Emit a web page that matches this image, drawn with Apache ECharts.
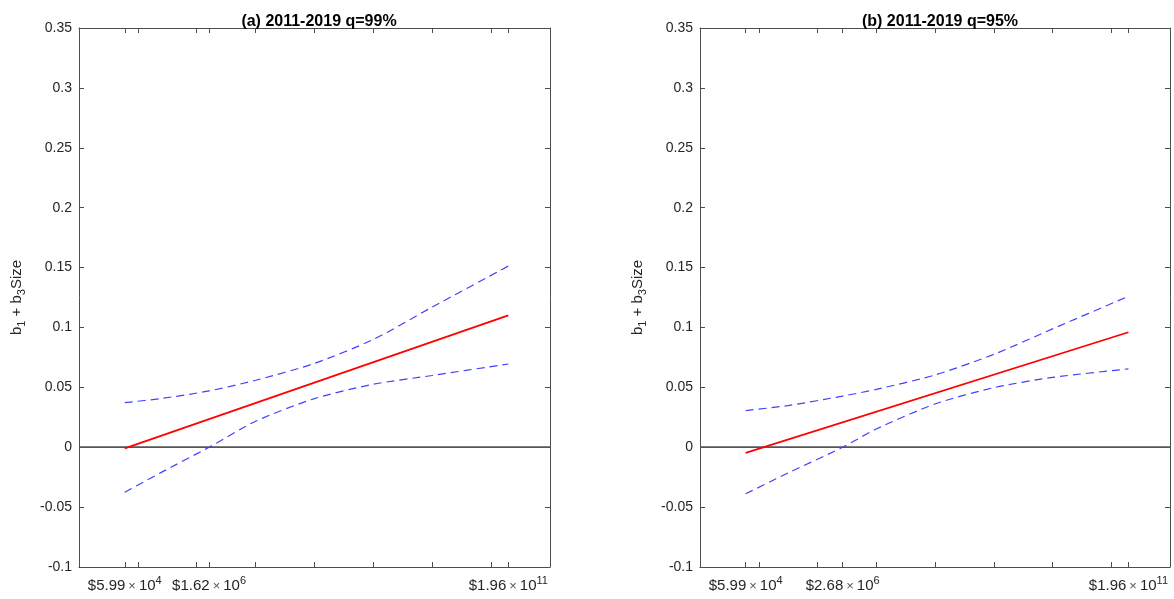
<!DOCTYPE html>
<html>
<head>
<meta charset="utf-8">
<script src="https://cdn.jsdelivr.net/npm/echarts@6/dist/echarts.min.js"></script>
<style>
html, body { margin: 0; background: #fff; }
#main { width: 1174px; height: 599px; }
</style>
</head>
<body>
<div id="main"></div>
<script>
var titles = ['(a) 2011-2019 q=99%', '(b) 2011-2019 q=95%'];

// panel (a): firm size ($) vs b1 + b3*Size
var sizeA = [5.99e4, 2.5e5, 1.62e6, 1e7, 1e8, 1e9, 1e10, 1.96e11];
var upperA = [0.0372, 0.0407, 0.047, 0.0559, 0.070, 0.090, 0.117, 0.1513];
var lowerA = [-0.0376, -0.021, 0, 0.0217, 0.0406, 0.0526, 0.0599, 0.0695];
var fitSizeA = [5.99e4, 1.96e11];
var fitA = [-0.001, 0.110];

// panel (b)
var sizeB = [5.99e4, 3.16e5, 2.68e6, 1e7, 1e8, 1e9, 1e10, 1.96e11];
var upperB = [0.0306, 0.0348, 0.0427, 0.0483, 0.0603, 0.0775, 0.0988, 0.126];
var lowerB = [-0.0389, -0.0215, 0, 0.0152, 0.0361, 0.0497, 0.0583, 0.0654];
var fitSizeB = [5.99e4, 1.96e11];
var fitB = [-0.0047, 0.096];

// labelled x ticks: mantissa and power of ten
var tickValsA = [5.99e4, 1.62e6, 1.96e11];
var tickValsB = [5.99e4, 2.68e6, 1.96e11];
var tickManA = ['$5.99', '$1.62', '$1.96'];
var tickManB = ['$5.99', '$2.68', '$1.96'];
var tickExp = ['4', '6', '11'];
var decades = [1e4, 1e5, 1e6, 1e7, 1e8, 1e9, 1e10, 1e11, 1e12];

var font = 'Liberation Sans, Arial, Helvetica, sans-serif';
var ink = '#262626';
var frame = '#4d4d4d';

function zip(xs, ys) {
    return xs.map(function (x, i) { return [x, ys[i]]; });
}

function xAxisFor(grid, vals, mans, exps, bottom) {
    return {
        type: 'log',
        logBase: 10,
        gridIndex: grid,
        position: bottom ? 'bottom' : 'top',
        min: 1e4,
        max: 1e12,
        axisLine: { show: true, onZero: false, lineStyle: { color: frame, width: 1 } },
        axisTick: {
            show: true, inside: true, length: 5,
            customValues: decades.concat(vals),
            lineStyle: { color: frame }
        },
        splitLine: { show: false },
        axisLabel: {
            show: bottom,
            customValues: vals,
            margin: 8,
            fontFamily: font,
            color: ink,
            formatter: function (v) {
                for (var i = 0; i < vals.length; i++) {
                    if (Math.abs(v / vals[i] - 1) < 1e-3) {
                        return '{a|' + mans[i] + '\u2009}{x|×}{a|\u200910}{s|' + exps[i] + '}';
                    }
                }
                return '';
            },
            rich: {
                a: { fontSize: 15, fontFamily: font, color: ink, lineHeight: 22 },
                x: { fontSize: 13, fontFamily: font, color: '#555', lineHeight: 22 },
                s: { fontSize: 11, fontFamily: font, color: ink, lineHeight: 12, verticalAlign: 'top' }
            }
        }
    };
}

function yAxisFor(grid, left) {
    return {
        type: 'value',
        gridIndex: grid,
        position: left ? 'left' : 'right',
        min: -0.1,
        max: 0.35,
        interval: 0.05,
        name: left ? '{b|b}{u|1}{b| + b}{u|3}{b|Size}' : '',
        nameLocation: 'middle',
        nameRotate: 90,
        nameGap: 52,
        nameTextStyle: {
            rich: {
                b: { fontSize: 15, fontFamily: font, color: ink, lineHeight: 20 },
                u: { fontSize: 11, fontFamily: font, color: ink, lineHeight: 10, verticalAlign: 'bottom' }
            }
        },
        axisLine: { show: true, onZero: false, lineStyle: { color: frame, width: 1 } },
        axisTick: { show: true, inside: true, length: 5, lineStyle: { color: frame } },
        splitLine: { show: false },
        axisLabel: { show: left, margin: 7, fontSize: 14, fontFamily: font, color: ink }
    };
}

function seriesFor(k, sizes, upper, lower, fitX, fitY) {
    var dash = { color: '#4040ff', width: 1.2, type: [8, 5] };
    return [
        {
            type: 'line', xAxisIndex: 2 * k, yAxisIndex: 2 * k,
            data: [[1e4, 0], [1e12, 0]],
            symbol: 'none', silent: true,
            lineStyle: { color: '#555', width: 1.8 }
        },
        {
            type: 'line', xAxisIndex: 2 * k, yAxisIndex: 2 * k,
            data: zip(sizes, upper), smooth: 0.25,
            symbol: 'none',
            lineStyle: dash
        },
        {
            type: 'line', xAxisIndex: 2 * k, yAxisIndex: 2 * k,
            data: zip(sizes, lower), smooth: 0.25,
            symbol: 'none',
            lineStyle: dash
        },
        {
            type: 'line', xAxisIndex: 2 * k, yAxisIndex: 2 * k,
            data: zip(fitX, fitY),
            symbol: 'none',
            lineStyle: { color: '#ff0000', width: 1.8 }
        }
    ];
}

var chart = echarts.init(document.getElementById('main'));
chart.setOption({
    animation: false,
    backgroundColor: '#fff',
    title: [
        { text: titles[0], left: 314, top: 9, textAlign: 'center',
          textStyle: { fontSize: 16, fontWeight: 'bold', fontFamily: font, color: '#000' } },
        { text: titles[1], left: 935, top: 9, textAlign: 'center',
          textStyle: { fontSize: 16, fontWeight: 'bold', fontFamily: font, color: '#000' } }
    ],
    grid: [
        { left: 79, right: 624, top: 28, bottom: 32 },
        { left: 700, right: 4, top: 28, bottom: 32 }
    ],
    xAxis: [
        xAxisFor(0, tickValsA, tickManA, tickExp, true),
        xAxisFor(0, tickValsA, tickManA, tickExp, false),
        xAxisFor(1, tickValsB, tickManB, tickExp, true),
        xAxisFor(1, tickValsB, tickManB, tickExp, false)
    ],
    yAxis: [
        yAxisFor(0, true),
        yAxisFor(0, false),
        yAxisFor(1, true),
        yAxisFor(1, false)
    ],
    series: seriesFor(0, sizeA, upperA, lowerA, fitSizeA, fitA)
        .concat(seriesFor(1, sizeB, upperB, lowerB, fitSizeB, fitB))
});
</script>
</body>
</html>
